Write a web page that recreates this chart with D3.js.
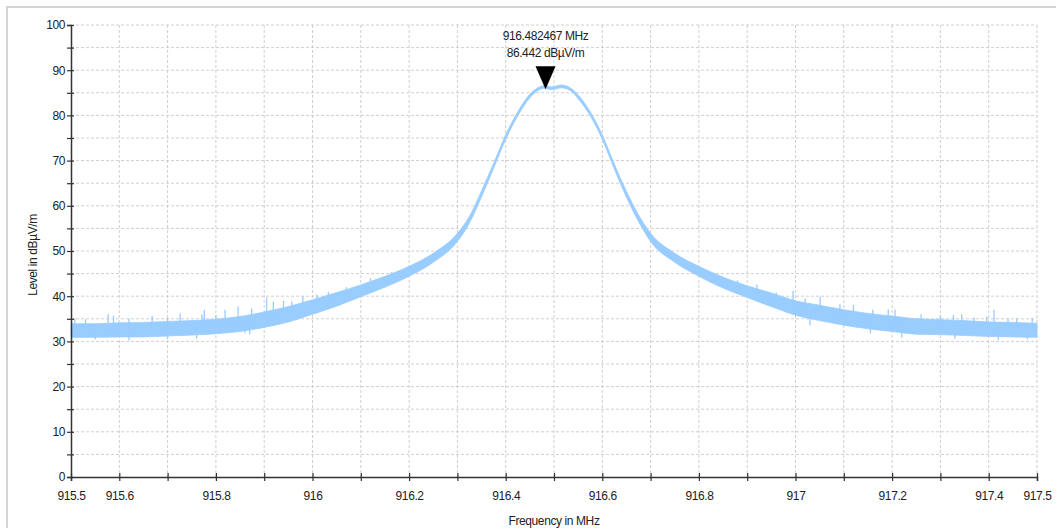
<!DOCTYPE html>
<html>
<head>
<meta charset="UTF-8">
<title>Level vs Frequency</title>
<style>
  body { margin: 0; background: #fff; }
  svg text { font-family: "Liberation Sans", Arial, sans-serif; font-size: 12px; fill: #222; letter-spacing: -0.4px; }
</style>
</head>
<body>
<svg width="1056" height="528"></svg>
<script src="https://d3js.org/d3.v7.min.js"></script>
<script>
// trace envelope (MHz, dBuV/m)
var freqs = [915.50, 915.55, 915.60, 915.65, 915.70, 915.75, 915.80, 915.85, 915.90, 915.95,
             916.00, 916.05, 916.10, 916.15, 916.20, 916.25, 916.30, 916.325, 916.35, 916.375,
             916.40, 916.425, 916.45, 916.465, 916.48, 916.495, 916.515, 916.535, 916.55, 916.575,
             916.60, 916.625, 916.65, 916.675, 916.70, 916.75, 916.80, 916.85, 916.90, 916.95,
             917.00, 917.05, 917.10, 917.15, 917.20, 917.25, 917.30, 917.35, 917.40, 917.45, 917.50];
var bandLow = [30.9, 30.9, 31.0, 31.0, 31.2, 31.4, 31.7, 32.2, 33.1, 34.3,
               36.0, 37.8, 39.9, 42.0, 44.4, 47.5, 52.1, 56.2, 62.0, 68.3,
               74.7, 79.9, 83.9, 85.4, 86.0, 85.7, 86.1, 85.4, 83.7, 79.9,
               74.7, 68.1, 61.9, 56.5, 52.1, 47.5, 44.4, 41.8, 39.7, 37.7,
               35.8, 34.6, 33.6, 32.8, 32.2, 31.6, 31.5, 31.3, 31.1, 31.0, 30.9];
var bandHigh = [33.9, 33.9, 34.1, 34.2, 34.4, 34.6, 34.9, 35.5, 36.5, 37.7,
                39.2, 40.8, 42.5, 44.4, 46.6, 49.5, 53.9, 57.7, 63.3, 69.4,
                75.7, 80.8, 84.7, 86.0, 86.6, 86.3, 86.7, 86.0, 84.5, 80.8,
                75.7, 69.2, 63.2, 58.0, 53.9, 49.5, 46.6, 44.2, 42.3, 40.7,
                39.0, 38.0, 37.0, 36.2, 35.6, 35.0, 34.8, 34.6, 34.3, 34.2, 34.0];

// single noise spikes above / below the band
var spikeFreq = [915.508, 915.53, 915.577, 915.588, 915.62, 915.668, 915.70, 915.726, 915.771, 915.776,
                 915.80, 915.819, 915.846, 915.874, 915.905, 915.919, 915.94, 915.957, 915.98, 916.009,
                 916.033, 916.07, 916.12, 916.164, 916.83, 916.847, 916.88, 916.92, 916.96, 916.995,
                 917.02, 917.051, 917.092, 917.12, 917.16, 917.192, 917.206, 917.26, 917.30, 917.327,
                 917.344, 917.37, 917.396, 917.411, 917.44, 917.458, 917.49];
var spikeTop = [35.1, 34.9, 36.0, 35.7, 35.0, 35.6, 35.2, 36.2, 36.0, 37.0,
                35.8, 37.0, 37.7, 37.3, 39.7, 38.8, 39.0, 38.8, 40.0, 40.4,
                41.0, 42.0, 44.0, 45.4, 45.2, 44.3, 43.5, 42.6, 40.8, 41.2,
                39.5, 39.9, 38.2, 38.1, 37.0, 37.1, 37.0, 36.0, 35.8, 35.9,
                36.0, 35.3, 35.5, 37.0, 35.0, 35.1, 35.2];
var dipFreq = [915.55, 915.62, 915.70, 915.76, 915.86, 915.87, 917.03, 917.155, 917.22, 917.33, 917.42, 917.48];
var dipBottom = [30.4, 30.2, 30.5, 30.6, 31.8, 31.5, 33.5, 31.8, 30.8, 30.6, 30.3, 30.5];

var xLabels = [915.5, 915.6, 915.8, 916, 916.2, 916.4, 916.6, 916.8, 917, 917.2, 917.4, 917.5];
var yLabels = [0, 10, 20, 30, 40, 50, 60, 70, 80, 90, 100];

var markerFreq = 916.482467, markerLevel = 86.442;

var svg = d3.select("svg");
var pLeft = 71, pRight = 1037, pTop = 25, pBottom = 477;

var x = d3.scaleLinear().domain([915.5, 917.5]).range([pLeft, pRight]);
var y = d3.scaleLinear().domain([0, 100]).range([pBottom, pTop]);

// outer frame
svg.append("rect")
  .attr("x", 7).attr("y", 7).attr("width", 1100).attr("height", 600)
  .attr("fill", "none").attr("stroke", "#d4d4d4").attr("stroke-width", 2);

var xTicks = d3.range(0, 21).map(function(i) { return +(915.5 + i * 0.1).toFixed(1); });
var yTicks = d3.range(0, 101, 5);

// grid
var grid = svg.append("g").attr("stroke", "#cfcfcf").attr("stroke-dasharray", "3,2");
grid.selectAll(".gx").data(xTicks.slice(1)).enter().append("line")
  .attr("x1", function(d) { return x(d); }).attr("x2", function(d) { return x(d); })
  .attr("y1", pTop).attr("y2", pBottom);
grid.selectAll(".gy").data(yTicks.slice(1)).enter().append("line")
  .attr("x1", pLeft).attr("x2", pRight)
  .attr("y1", function(d) { return y(d); }).attr("y2", function(d) { return y(d); });

// trace
var pts = freqs.map(function(f, i) { return [f, bandLow[i], bandHigh[i]]; });
var area = d3.area()
  .x(function(d) { return x(d[0]); })
  .y0(function(d) { return y(d[1]); })
  .y1(function(d) { return y(d[2]); })
  .curve(d3.curveMonotoneX);
svg.append("path").datum(pts).attr("d", area)
  .attr("fill", "#99ccff").attr("stroke", "#99ccff").attr("stroke-width", 0.8);

function mid(f) {
  var i = d3.bisectLeft(freqs, f);
  if (i <= 0) return (bandLow[0] + bandHigh[0]) / 2;
  var t = (f - freqs[i - 1]) / (freqs[i] - freqs[i - 1]);
  var a = (bandLow[i - 1] + bandHigh[i - 1]) / 2, b = (bandLow[i] + bandHigh[i]) / 2;
  return a + (b - a) * t;
}
var spikes = svg.append("g").attr("stroke", "#99ccff").attr("stroke-width", 1.3);
spikes.selectAll(".up").data(spikeFreq).enter().append("line")
  .attr("x1", function(d) { return x(d); }).attr("x2", function(d) { return x(d); })
  .attr("y1", function(d) { return y(mid(d)); })
  .attr("y2", function(d, i) { return y(spikeTop[i]); });
spikes.selectAll(".dn").data(dipFreq).enter().append("line")
  .attr("x1", function(d) { return x(d); }).attr("x2", function(d) { return x(d); })
  .attr("y1", function(d) { return y(mid(d)); })
  .attr("y2", function(d, i) { return y(dipBottom[i]); });

// axes
var yAxis = svg.append("g").attr("transform", "translate(" + pLeft + ",0)")
  .call(d3.axisLeft(y).tickValues(yTicks).tickSize(4).tickPadding(2)
    .tickFormat(function(d) { return yLabels.indexOf(d) >= 0 ? d : ""; }));
yAxis.selectAll(".tick line").attr("x2", -4).attr("x1", 3);

var xAxis = svg.append("g").attr("transform", "translate(0," + pBottom + ")")
  .call(d3.axisBottom(x).tickValues(xTicks).tickSize(4).tickPadding(10)
    .tickFormat(function(d) { return xLabels.indexOf(d) >= 0 ? String(d) : ""; }));
xAxis.selectAll(".tick line").attr("y1", -4).attr("y2", 4);

[yAxis, xAxis].forEach(function(a) {
  a.select(".domain").attr("stroke", "#333").attr("stroke-width", 1.5);
  a.selectAll(".tick line").attr("stroke", "#333").attr("stroke-width", 1.2);
  a.selectAll("text").attr("fill", "#222").style("font-size", "12px");
  a.attr("font-family", null);
});

// axis titles
svg.append("text")
  .attr("transform", "translate(37," + ((pTop + pBottom) / 2 + 4) + ") rotate(-90)")
  .attr("text-anchor", "middle")
  .text("Level in dBµV/m");
svg.append("text")
  .attr("x", (pLeft + pRight) / 2).attr("y", 525)
  .attr("text-anchor", "middle")
  .text("Frequency in MHz");

// peak marker
var mx = x(markerFreq), my = y(markerLevel) + 3;
svg.append("path")
  .attr("d", "M" + (mx - 10) + "," + (my - 23) + "L" + (mx + 10) + "," + (my - 23) + "L" + mx + "," + my + "Z")
  .attr("fill", "#000");
svg.append("text").attr("x", mx).attr("y", 40).attr("text-anchor", "middle")
  .text(markerFreq.toFixed(6) + " MHz");
svg.append("text").attr("x", mx).attr("y", 57).attr("text-anchor", "middle")
  .text(markerLevel.toFixed(3) + " dBµV/m");
</script>
</body>
</html>
